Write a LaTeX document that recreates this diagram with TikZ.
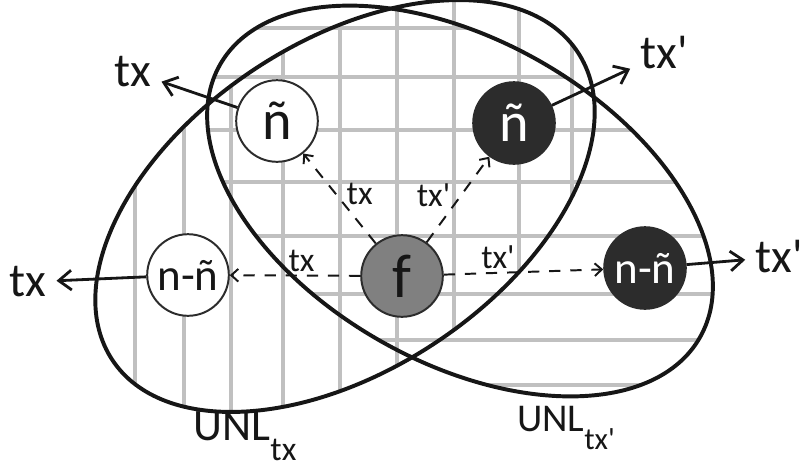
\documentclass[tikz,border=0pt]{standalone}
\usepackage{fontspec}
\setmainfont{Carlito}
\usetikzlibrary{arrows.meta,positioning}
\definecolor{ink}{RGB}{22,22,22}
\definecolor{gridgray}{RGB}{192,192,192}
\definecolor{nodedark}{RGB}{44,44,44}
\definecolor{nodegray}{RGB}{128,128,128}

\tikzset{
  setline/.style={line width=2.8pt,draw=ink},
  hatch/.style={line width=2.8pt,draw=gridgray},
  txnode/.style={circle,draw=nodedark,line width=1.4pt,minimum size=2.04cm,inner sep=0pt},
  unspent/.style={txnode,fill=white,text=ink},
  spent/.style={txnode,fill=nodedark,text=white},
  funding/.style={txnode,fill=nodegray,text=ink},
  outarrow/.style={line width=2pt,draw=ink,-{Straight Barb[length=9pt,width=14pt]}},
  spendarrow/.style={line width=1.4pt,draw=ink,dash pattern=on 8pt off 7pt,
    -{Straight Barb[length=5pt,width=9pt]}},
  biglbl/.style={font=\fontsize{34}{36}\selectfont,text=ink,inner sep=7pt},
  smalllbl/.style={font=\fontsize{24}{26}\selectfont,text=ink,inner sep=1pt}
}

\begin{document}
\begin{tikzpicture}[x=0.025cm,y=-0.025cm]
  \useasboundingbox (0,0) rectangle (807,468);

  % hatching of the two sets
  \begin{scope}
    \clip[rotate around={33.5:(345,206)}] (345,206) ellipse [x radius=279,y radius=164];
    \foreach \gx in {135,184,231,283,340,397,454,519,572}
      \draw[hatch] (\gx,0) -- (\gx,468);
  \end{scope}
  \begin{scope}
    \clip[rotate around={-29.6:(460,201)}] (460,201) ellipse [x radius=276,y radius=161];
    \foreach \gy in {28,77,130,182,236,294,340,385}
      \draw[hatch] (0,\gy) -- (807,\gy);
  \end{scope}

  \draw[setline,rotate around={33.5:(345,206)}] (345,206) ellipse [x radius=279,y radius=164];
  \draw[setline,rotate around={-29.6:(460,201)}] (460,201) ellipse [x radius=276,y radius=161];

  % outputs
  \node[unspent,font=\fontsize{40}{40}\selectfont] (nt) at (277,121) {ñ};
  \node[spent,font=\fontsize{40}{40}\selectfont] (nb) at (514,123) {ñ};
  \node[unspent,font=\fontsize{32}{32}\selectfont] (nmt) at (188,275) {n-ñ};
  \node[funding,font=\fontsize{44}{44}\selectfont] (f) at (402,276) {f};
  \node[spent,font=\fontsize{32}{32}\selectfont] (nmb) at (645,268) {n-ñ};

  \node[biglbl] (otx1) at (133,72) {tx};
  \node[biglbl] (otx2) at (664,53) {tx\textquotesingle};
  \node[biglbl] (otx3) at (28,282) {tx};
  \node[biglbl] (otx4) at (779,257) {tx\textquotesingle};

  \draw[outarrow] (nt) -- (otx1);
  \draw[outarrow] (nb) -- (otx2);
  \draw[outarrow] (nmt) -- (otx3);
  \draw[outarrow] (nmb) -- (otx4);

  \draw[spendarrow] (f) -- node[smalllbl,pos=0.55,right=6pt]{tx} (nt);
  \draw[spendarrow] (f) -- node[smalllbl,pos=0.55,left=6pt]{tx\textquotesingle} (nb);
  \draw[spendarrow] (f) -- node[smalllbl,pos=0.45,above=1pt]{tx} (nmt);
  \draw[spendarrow] (f) -- node[smalllbl,pos=0.34,above=1pt]{tx\textquotesingle} (nmb);

  % set names
  \node[font=\fontsize{32}{34}\selectfont,text=ink] (unltx) at (245,436)
    {UNL\raisebox{-0.45em}{\fontsize{24}{26}\selectfont tx}};
  \node[font=\fontsize{28}{30}\selectfont,text=ink] (unltxp) at (566,428)
    {UNL\raisebox{-0.45em}{\fontsize{22}{24}\selectfont tx\textquotesingle}};
\end{tikzpicture}
\end{document}
